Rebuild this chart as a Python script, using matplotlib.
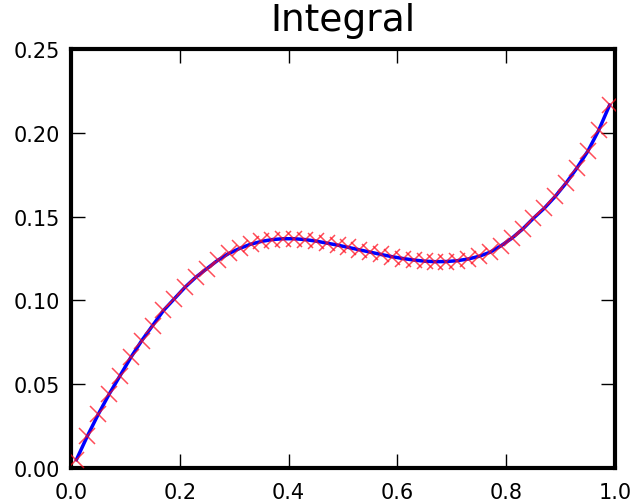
import matplotlib
matplotlib.use('Agg')
import matplotlib.pyplot as plt

# midpoints where the integral was evaluated
x = [0.01, 0.03, 0.05, 0.07, 0.09, 0.11, 0.13, 0.15, 0.17, 0.19,
     0.21, 0.23, 0.25, 0.27, 0.29, 0.31, 0.33, 0.35, 0.37, 0.39,
     0.41, 0.43, 0.45, 0.47, 0.49, 0.51, 0.53, 0.55, 0.57, 0.59,
     0.61, 0.63, 0.65, 0.67, 0.69, 0.71, 0.73, 0.75, 0.77, 0.79,
     0.81, 0.83, 0.85, 0.87, 0.89, 0.91, 0.93, 0.95, 0.97, 0.99]
y = [0.005, 0.019, 0.032, 0.044, 0.055, 0.066, 0.076, 0.085, 0.094, 0.101,
     0.108, 0.114, 0.119, 0.124, 0.128, 0.131, 0.1335, 0.1352, 0.1363, 0.1368,
     0.1368, 0.1363, 0.1354, 0.1342, 0.1330, 0.1316, 0.1302, 0.1288, 0.1274, 0.1261,
     0.1250, 0.1241, 0.1234, 0.1231, 0.1232, 0.1237, 0.1247, 0.1263, 0.1287, 0.1325,
     0.137, 0.1425, 0.149, 0.155, 0.162, 0.170, 0.179, 0.189, 0.2015, 0.2165]

xticks = [0.0, 0.2, 0.4, 0.6, 0.8, 1.0]
yticks = [0.00, 0.05, 0.10, 0.15, 0.20, 0.25]

fig = plt.figure(figsize=(6.3, 5.02), dpi=100)
ax = fig.add_axes([0.1127, 0.0657, 0.8635, 0.8347])

ax.plot(x, y, color='blue', lw=2.5, zorder=2)
ax.plot(x, y, 'x', color='#ff1020', ms=11, mew=1.1, alpha=0.75, zorder=3)

ax.set_xlim(0, 1)
ax.set_ylim(0, 0.25)
ax.set_xticks(xticks)
ax.set_yticks(yticks)
ax.set_xticklabels(['%.1f' % t for t in xticks])
ax.set_yticklabels(['%.2f' % t for t in yticks])
ax.tick_params(direction='in', length=10, width=1, labelsize=15, top=True, right=True)
ax.tick_params(axis='x', pad=10)
ax.tick_params(axis='y', pad=8)
for s in ax.spines.values():
    s.set_linewidth(3)

ax.set_title('Integral', fontsize=27, pad=14)

fig.savefig('out.png', dpi=100)
